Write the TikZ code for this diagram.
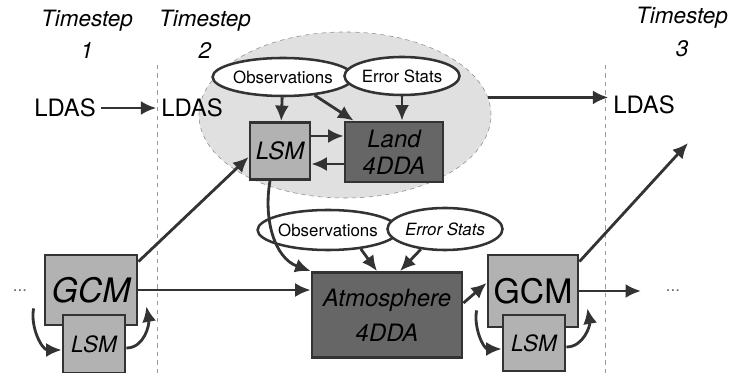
\documentclass[tikz,border=0pt]{standalone}
\usepackage{fontspec}
\setmainfont{TeX Gyre Heros}
\usetikzlibrary{arrows.meta,shapes.geometric}

\begin{document}
\begin{tikzpicture}[x=0.025cm,y=-0.025cm]
\tikzset{box/.style = {draw=black!80,line width=2pt,fill=black!30,inner sep=0pt}}
\tikzset{darkbox/.style = {box,fill=black!60}}
\tikzset{oval/.style = {shape=ellipse,draw=black!80,line width=1.8pt,fill=white,inner sep=0pt,font=\fontsize{12}{14}\selectfont}}
\tikzset{edge/.style = {-{Latex[length=11pt,width=10pt]},line width=2pt,draw=black!80}}
\tikzset{txt/.style = {font=\fontsize{17}{20}\selectfont}}
\tikzset{stamp/.style = {align=center,font=\fontsize{16}{23}\selectfont\itshape}}
\tikzset{divide/.style = {draw=black!40,dashed,line width=0.6pt}}

\useasboundingbox (0,0) rectangle (736,373);

% time steps
\draw[divide] (157,65) -- (157,373);
\draw[divide] (605,65) -- (605,373);
\node[stamp] (ts1) at (87,34) {Timestep\\1};
\node[stamp] (ts2) at (205,34) {Timestep\\2};
\node[stamp] (ts3) at (682,32) {Timestep\\3};

% land assimilation
\node[shape=ellipse,draw=black!45,dashed,fill=black!12,minimum width=7.3cm,minimum height=4.15cm] (ldas) at (345,115) {};
\node[txt] (ldas1) at (65,108) {LDAS};
\node[txt] (ldas2) at (192,108) {LDAS};
\node[txt] (ldas3) at (644,105) {LDAS};
\node[oval,minimum width=3.1cm,minimum height=0.95cm] (obsA) at (283,77) {Observations};
\node[oval,minimum width=2.875cm,minimum height=0.95cm] (errA) at (402,76) {Error Stats};
\node[box,minimum width=1.5cm,minimum height=1.425cm,font=\fontsize{17}{19}\selectfont\itshape] (lsmA) at (280,151) {LSM};
\node[darkbox,minimum width=2.45cm,minimum height=1.5cm,align=center,font=\fontsize{17}{19}\selectfont\itshape] (landA) at (394,152) {Land\\4DDA};

% atmosphere
\node[oval,minimum width=2.975cm,minimum height=1cm] (obsB) at (328,230) {Observations};
\node[oval,minimum width=2.875cm,minimum height=1.05cm,font=\fontsize{12}{14}\selectfont\itshape] (errB) at (445,229) {Error Stats};
\node[darkbox,minimum width=3.75cm,minimum height=2.125cm,align=center,font=\fontsize{17}{25}\selectfont\itshape] (atm) at (387,315) {Atmosphere\\4DDA};

% models
\node[box,minimum width=2.3cm,minimum height=1.75cm,font=\fontsize{24}{26}\selectfont\itshape] (gcmL) at (91,290) {GCM};
\node[box,minimum width=1.55cm,minimum height=1.45cm,font=\fontsize{16}{18}\selectfont\itshape] (lsmL) at (94,344) {LSM};
\node[box,minimum width=2.25cm,minimum height=1.8cm,font=\fontsize{24}{26}\selectfont] (gcmR) at (533,291) {GCM};
\node[box,minimum width=1.55cm,minimum height=1.4cm,font=\fontsize{16}{18}\selectfont\itshape] (lsmR) at (534,343) {LSM};
\node[font=\fontsize{12}{14}\selectfont,text=black!60] (dotsL) at (20,291) {...};
\node[font=\fontsize{12}{14}\selectfont,text=black!60] (dotsR) at (673,291) {...};
\coordinate (up) at (688,143);

\draw[edge] (ldas1) -- (ldas2);
\draw[edge] (ldas.7) -- (ldas.7 -| ldas3.west);
\draw[edge] (obsA) -- (lsmA);
\draw[edge] (obsA.-30) -- ([xshift=0.25cm]landA.north west);
\draw[edge] (errA.south) -- (errA.south |- landA.north);
\draw[edge] ([yshift=0.375cm]lsmA.east) -- ([yshift=0.375cm]lsmA.east -| landA.west);
\draw[edge] ([yshift=-0.3cm]landA.west) -- ([yshift=-0.3cm]landA.west -| lsmA.east);
\draw[edge] ([xshift=-0.25cm]lsmA.south) to[out=-100,in=160] (atm.north west);
\draw[edge] (obsB.-30) -- ([xshift=-0.25cm]atm.north);
\draw[edge] (errB.-140) -- ([xshift=0.325cm]atm.north);
\draw[edge] (gcmL) -- (gcmL -| atm.west);
\draw[edge] ([yshift=-0.2cm]gcmL.north east) -- ([yshift=-0.15cm]lsmA.west);
\draw[edge] ([yshift=0.3cm]atm.east) -- ([yshift=0.2cm]gcmR.west);
\draw[edge] (gcmR) -- ([xshift=-0.5cm]dotsR.west);
\draw[edge] ([yshift=-0.2cm]gcmR.north east) -- (up);

% coupling loops
\draw[edge] ([xshift=-0.25cm,yshift=0.45cm]gcmL.south west) to[out=-100,in=180] ([yshift=-0.15cm]lsmL.west);
\draw[edge] ([yshift=-0.1cm]lsmL.east) to[out=0,in=-80] ([xshift=0.2cm,yshift=0.5cm]gcmL.south east);
\draw[edge] ([xshift=-0.25cm,yshift=0.45cm]gcmR.south west) to[out=-100,in=180] ([yshift=-0.15cm]lsmR.west);
\draw[edge] ([yshift=-0.1cm]lsmR.east) to[out=0,in=-80] ([xshift=0.2cm,yshift=0.5cm]gcmR.south east);
\end{tikzpicture}
\end{document}
